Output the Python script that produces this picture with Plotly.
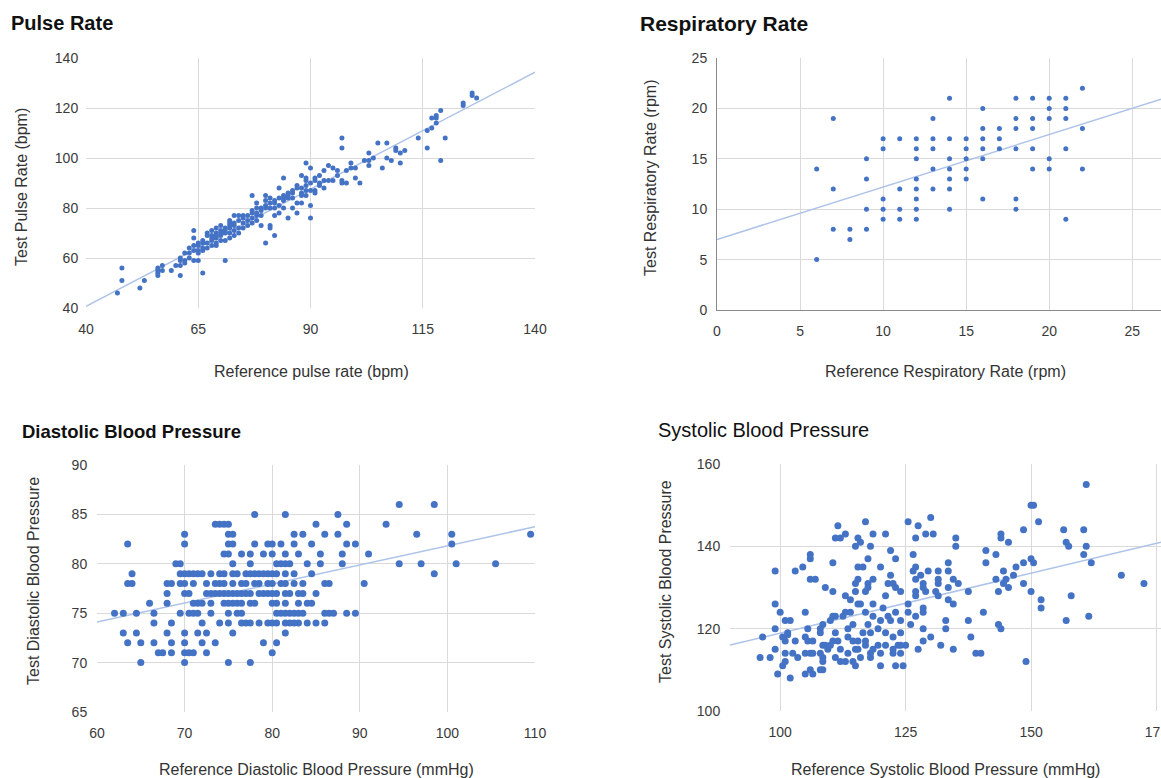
import plotly.graph_objects as go

W, H = 1161, 778

# ---------------- data ----------------
# Pulse rate: reference value -> list of test values
pulse_ref_levels = [47, 48, 52, 53, 56, 57, 59, 60, 61, 62, 63, 64, 65, 66, 67, 68, 69, 70,
                    71, 72, 73, 74, 75, 76, 77, 78, 79, 80, 81, 82, 83, 84, 85, 86, 87, 88,
                    89, 90, 91, 92, 93, 94, 95, 96, 97, 98, 99, 100, 101, 102, 103, 104, 105,
                    106, 107, 108, 109, 110, 111, 114, 116, 117, 118, 119, 120, 124, 126, 127]
pulse_test_groups = [
    [46], [56, 51], [48], [51], [56, 55, 54, 53], [57, 55], [55], [57], [53, 57, 60, 59],
    [59, 58, 62], [60, 62, 64], [59, 65, 63, 68, 71], [59, 63, 65, 62, 66], [54, 66, 64, 63, 67],
    [70, 66, 64, 69], [71, 69, 67, 65, 68], [70, 68, 66, 65, 69, 72], [71, 69, 67, 70, 73],
    [59, 71, 70, 67, 72], [74, 72, 70, 68, 75, 73], [77, 73, 71, 69, 74], [77, 72, 70, 75],
    [77, 74, 72, 76], [75, 73, 77], [85, 78, 76, 74, 79], [82, 80, 77, 75, 78], [80, 77, 73, 79],
    [85, 83, 80, 66, 81], [84, 80, 73, 72, 82], [82, 80, 77, 69, 83], [88, 81, 78, 84],
    [92, 84, 83, 80, 85], [86, 84, 76, 85], [87, 84, 80, 86], [89, 82, 78, 88],
    [93, 86, 85, 82, 88], [98, 92, 91, 87, 85, 89], [96, 87, 81, 76, 90], [92, 87, 86, 91],
    [93, 90, 89], [95, 91, 88], [97, 91], [96, 91], [95, 93], [108, 104, 91, 90], [95, 90],
    [98, 96], [96, 92], [90], [99], [102, 99, 97], [100], [106], [96], [106, 100], [99],
    [104, 103], [102, 98], [103], [108], [111, 104], [116, 112], [117, 116, 114], [119, 99],
    [108], [122, 121], [126, 125], [124]]
pulse_trend = [3.26, 0.936]          # intercept, slope

# Respiratory rate: reference value -> list of test values
resp_ref_levels = [6, 7, 8, 9, 10, 11, 12, 13, 14, 15, 16, 17, 18, 19, 20, 21, 22]
resp_test_groups = [
    [14, 5], [19, 12, 8], [8, 7], [15, 13, 10, 8], [17, 16, 11, 10, 9], [17, 12, 10, 9],
    [17, 16, 15, 13, 12, 11, 10, 9], [19, 17, 16, 14, 12], [21, 17, 15, 14, 13, 12, 10],
    [17, 16, 15, 14, 13], [20, 18, 17, 16, 15, 11], [18, 17, 16], [21, 19, 18, 16, 11, 10],
    [21, 19, 18, 16, 14], [21, 20, 19, 15, 14], [21, 20, 19, 16, 9], [22, 18, 14]]
resp_trend = [7.0, 0.52]

# Diastolic blood pressure: test value -> list of reference values
dia_test_levels = [86, 85, 84, 83, 82, 81, 80, 79, 78, 77, 76, 75, 74, 73, 72, 71, 70]
dia_ref_groups = [
    [94.5, 98.5],
    [78, 81.5, 87.5],
    [73.5, 74, 74.5, 75, 85, 88.5, 93],
    [70, 75, 75.5, 82.5, 83.5, 86, 87.5, 96.5, 100.5, 109.5],
    [63.5, 70, 75, 75.5, 78, 79.5, 80, 81, 82.5, 84.5, 88.5, 89.5, 100.5],
    [74.5, 75, 76.5, 77.5, 79, 80, 81.5, 83, 85.5, 88, 91],
    [69, 69.5, 75.5, 77.5, 80.5, 81, 81.5, 82, 84, 85.5, 88, 94.5, 97, 101, 105.5],
    [64, 69.5, 70, 70.5, 71, 71.5, 72, 73, 74, 74.5, 75.5, 76, 77, 77.5, 78, 78.5, 79, 79.5,
     80, 80.5, 81.5, 82.5, 84.5, 98.5],
    [63.5, 64, 68, 68.5, 69.5, 70, 71, 72.5, 73.5, 74, 74.5, 75.5, 76.5, 77, 78, 78.5, 79.5,
     80, 81, 81.5, 82.5, 83.5, 86, 86.5, 90.5],
    [68, 70, 70.5, 72.5, 73, 73.5, 74, 74.5, 75, 75.5, 76, 76.5, 77, 77.5, 78.5, 79, 79.5, 80,
     80.5, 81.5, 82, 83, 83.5, 85],
    [66, 68, 71, 71.5, 72, 73, 74.5, 75, 75.5, 76, 76.5, 77.5, 78, 80, 80.5, 81.5, 83, 84, 84.5],
    [62, 63, 64.5, 66.5, 69.5, 70.5, 71, 71.5, 73, 75, 76, 76.5, 80.5, 81, 81.5, 82, 82.5, 83,
     83.5, 86, 86.5, 87, 88.5, 89.5],
    [66.5, 68.5, 72, 74, 75, 76.5, 77, 77.5, 78.5, 79.5, 80, 80.5, 81.5, 82, 82.5, 83, 84, 85, 86],
    [63, 64.5, 68, 70, 71.5, 72.5, 75.5, 81.5],
    [63.5, 65, 66.5, 68.5, 70, 72, 73.5, 79, 80.5],
    [67, 67.5, 68.5, 70, 70.5, 71, 72.5, 80],
    [65, 70, 75, 77.5]]
dia_trend = [62.52, 0.193]

# Systolic blood pressure: (reference, test)
systolic_points = [
    (96, 113), (96.5, 118), (98, 113), (99, 134), (99, 126), (99, 120), (99, 115), (99.5, 109),
    (100, 124), (100.5, 118), (100.5, 111), (101, 122), (101, 117), (101, 114), (101, 112),
    (101.5, 119), (101.5, 118.5), (102, 122), (102, 108), (102.5, 114), (103, 134), (103, 117),
    (103.5, 113), (104.5, 135), (105, 124), (105, 118), (105, 114), (105, 109), (105.5, 120),
    (105.5, 117), (106, 138), (106, 137), (106, 132), (106, 114), (106, 110), (106.5, 117),
    (106.5, 114), (106.5, 109), (107, 132), (108, 120), (108, 119), (108, 114), (108, 110),
    (108.5, 121), (108.5, 116), (108.5, 113), (108.5, 112), (108.5, 110), (109, 130), (109, 116),
    (109.5, 115), (110, 122), (110, 116), (110.5, 136), (110.5, 129), (110.5, 123), (110.5, 117),
    (111, 142), (111, 119), (111, 113), (111, 123), (111.5, 145), (111.5, 117), (112, 142),
    (112, 115), (112, 112), (112.5, 123), (113, 143), (113, 128), (113, 124), (113, 112),
    (113.5, 120), (113.5, 118), (113.5, 114), (114, 127), (114, 124), (114.5, 121), (114.5, 117),
    (114.5, 112), (115, 131), (115, 129), (115, 111), (115, 115), (115, 140), (115.5, 142),
    (115.5, 135), (115.5, 132), (115.5, 126), (115.5, 117), (115.5, 115), (116, 141), (116, 126),
    (116, 113), (116.5, 135), (116.5, 119), (117, 146), (117, 129), (117, 124), (117, 117),
    (117, 116), (117.5, 137), (117.5, 131), (117.5, 130), (117.5, 121), (118, 119), (118, 114),
    (118, 113), (118, 140), (118.5, 143), (118.5, 132), (118.5, 126), (118.5, 123), (118.5, 115),
    (119.5, 120), (119.5, 116), (120, 135), (120, 122), (120, 114), (120, 111), (120.5, 125),
    (121, 143), (121, 128), (121, 116), (121, 119), (121.5, 131), (121.5, 123), (122, 139),
    (122, 133), (122, 122), (122.5, 131), (122.5, 118), (122.5, 115), (122.5, 114), (123, 137),
    (123, 130), (123, 124), (123, 111), (123.5, 116), (124, 129), (124, 122), (124, 119),
    (124, 116), (124, 114), (124.5, 111), (125, 116), (125.5, 146), (125.5, 126), (125.5, 124),
    (126, 121), (126.5, 138), (126.5, 134), (127, 135), (127, 132), (127, 129), (127, 128),
    (127, 123), (127, 142), (127.5, 145), (127.5, 115), (128, 133), (128.5, 131), (128.5, 130),
    (128.5, 125), (128.5, 124), (128.5, 120), (128.5, 117), (129, 143), (129, 129), (129.5, 134),
    (130, 147), (130, 118), (130.5, 143), (131, 129), (131.5, 134), (131.5, 132), (131.5, 131),
    (131.5, 128), (132, 116), (133, 122), (133, 120), (133.5, 136), (133.5, 134), (133.5, 130),
    (133.5, 127), (134.5, 132), (134.5, 126), (134.5, 115), (135, 142), (135, 140), (135.5, 131),
    (137.5, 129), (137.5, 122), (138, 118), (139, 114), (140, 114), (140.5, 124), (141, 139),
    (141, 136), (143, 138), (143, 132), (143.5, 129), (143.5, 121), (144, 143), (144, 142),
    (144, 120), (144.5, 134), (144.5, 131), (145, 132), (145.5, 141), (145.5, 130), (146.5, 133),
    (147, 135), (148.5, 136), (148.5, 144), (148.5, 131), (149, 112), (150, 137), (150, 129),
    (150, 150), (150.5, 150), (150.5, 136), (151.5, 146), (152, 127), (152, 125), (156.5, 144),
    (157, 141), (157, 122), (157.5, 140), (158, 128), (160.5, 144), (160.5, 138), (161, 155),
    (161, 140), (161.5, 123), (162, 136), (168, 133), (172.5, 131)]
sys_trend = [89.81, 0.291]

# text
panel_titles = ["Pulse Rate", "Respiratory Rate", "Diastolic Blood Pressure", "Systolic Blood Pressure"]
x_titles = ["Reference pulse rate (bpm)", "Reference Respiratory Rate (rpm)",
            "Reference Diastolic Blood Pressure (mmHg)", "Reference Systolic Blood Pressure (mmHg)"]
y_titles = ["Test Pulse Rate (bpm)", "Test Respiratory Rate (rpm)",
            "Test Diastolic Blood Pressure", "Test Systolic Blood Pressure"]

# ---------------- expand grouped data ----------------
def expand_by_x(xs, groups):
    ox, oy = [], []
    for x, g in zip(xs, groups):
        for y in g:
            ox.append(x); oy.append(y)
    return ox, oy

def expand_by_y(ys, groups):
    ox, oy = [], []
    for y, g in zip(ys, groups):
        for x in g:
            ox.append(x); oy.append(y)
    return ox, oy

pulse_x, pulse_y = expand_by_x(pulse_ref_levels, pulse_test_groups)
resp_x, resp_y = expand_by_x(resp_ref_levels, resp_test_groups)
dia_x, dia_y = expand_by_y(dia_test_levels, dia_ref_groups)
sys_x = [p[0] for p in systolic_points]
sys_y = [p[1] for p in systolic_points]

# ---------------- styling ----------------
FONT = "Liberation Sans, Arial, sans-serif"
DOT = "#4472C4"
TREND = "#AEC3E8"
GRID = "#DADADA"

# plot areas in pixels: (left, right, top, bottom)
boxes = [(86, 535, 58, 308), (717, 1161, 58, 310), (97, 535, 465, 712), (730, 1161, 464, 711)]
xranges = [[40, 140], [0, 26.73], [60, 110], [90, 175.9]]
yranges = [[40, 140], [0, 25], [65, 90], [100, 160]]
xticks = [[40, 65, 90, 115, 140], [0, 5, 10, 15, 20, 25], [60, 70, 80, 90, 100, 110], [100, 125, 150, 175]]
yticks = [[40, 60, 80, 100, 120, 140], [0, 5, 10, 15, 20, 25], [65, 70, 75, 80, 85, 90], [100, 120, 140, 160]]
trends = [pulse_trend, resp_trend, dia_trend, sys_trend]
series = [(pulse_x, pulse_y, 5), (resp_x, resp_y, 5), (dia_x, dia_y, 7), (sys_x, sys_y, 7)]

fig = go.Figure()

for i in range(4):
    xa = "x" if i == 0 else f"x{i+1}"
    ya = "y" if i == 0 else f"y{i+1}"
    a, b = trends[i]
    x0, x1 = xranges[i]
    fig.add_trace(go.Scatter(x=[x0, x1], y=[a + b * x0, a + b * x1], mode="lines",
                             line=dict(color=TREND, width=1.5), xaxis=xa, yaxis=ya,
                             hoverinfo="skip", showlegend=False, cliponaxis=True))
    sx, sy, sz = series[i]
    fig.add_trace(go.Scatter(x=sx, y=sy, mode="markers",
                             marker=dict(color=DOT, size=sz, line=dict(width=0)),
                             xaxis=xa, yaxis=ya, showlegend=False))

layout = dict(width=W, height=H, margin=dict(l=0, r=0, t=0, b=0, autoexpand=False),
              paper_bgcolor="white", plot_bgcolor="white",
              font=dict(family=FONT, color="#333333"), showlegend=False)

for i in range(4):
    l, r, t, btm = boxes[i]
    xk = "xaxis" if i == 0 else f"xaxis{i+1}"
    yk = "yaxis" if i == 0 else f"yaxis{i+1}"
    ya = "y" if i == 0 else f"y{i+1}"
    xa = "x" if i == 0 else f"x{i+1}"
    axis_line = (i == 1)
    layout[xk] = dict(domain=[l / W, r / W], range=xranges[i], anchor=ya, automargin=False,
                      tickvals=xticks[i], showgrid=True, gridcolor=GRID, gridwidth=1,
                      zeroline=False, showline=axis_line, linecolor="#8a8a8a", linewidth=1,
                      ticks="outside", ticklen=8, tickcolor="rgba(0,0,0,0)",
                      ticklabeloverflow="allow",
                      tickfont=dict(size=14, color="#3a3a3a", family=FONT), fixedrange=True)
    layout[yk] = dict(domain=[1 - btm / H, 1 - t / H], range=yranges[i], anchor=xa, automargin=False,
                      tickvals=yticks[i], showgrid=True, gridcolor=GRID, gridwidth=1,
                      zeroline=False, showline=axis_line, linecolor="#8a8a8a", linewidth=1,
                      ticks="outside", ticklen=4 if i == 0 else 6, tickcolor="rgba(0,0,0,0)",
                      ticklabeloverflow="allow",
                      tickfont=dict(size=14, color="#3a3a3a", family=FONT), fixedrange=True)

fig.update_layout(**layout)

# panel titles
title_pos = [(9, 23, True, 20), (638, 23, True, 21), (20, 431, True, 18.5), (656, 430, False, 20)]
for (x, y, bold, sz), txt in zip(title_pos, panel_titles):
    fig.add_annotation(x=x / W, y=1 - y / H, xref="paper", yref="paper", xanchor="left",
                       yanchor="middle", showarrow=False,
                       text=f"<b>{txt}</b>" if bold else txt,
                       font=dict(size=sz, color="#111111", family=FONT))

# axis titles
xt_pos = [(311, 371), (945, 371), (316, 769), (945, 769)]
for (x, y), txt in zip(xt_pos, x_titles):
    fig.add_annotation(x=x / W, y=1 - y / H, xref="paper", yref="paper", xanchor="center",
                       yanchor="middle", showarrow=False, text=txt,
                       font=dict(size=16, color="#333333", family=FONT))
yt_pos = [(21, 187), (650, 178), (33, 581), (665, 582)]
for (x, y), txt in zip(yt_pos, y_titles):
    fig.add_annotation(x=x / W, y=1 - y / H, xref="paper", yref="paper", xanchor="center",
                       yanchor="middle", showarrow=False, text=txt, textangle=-90,
                       font=dict(size=16, color="#333333", family=FONT))

fig.write_html("out.html", config={"responsive": False, "displayModeBar": False},
               post_script="document.body.style.margin='0';document.body.style.overflow='hidden';")
